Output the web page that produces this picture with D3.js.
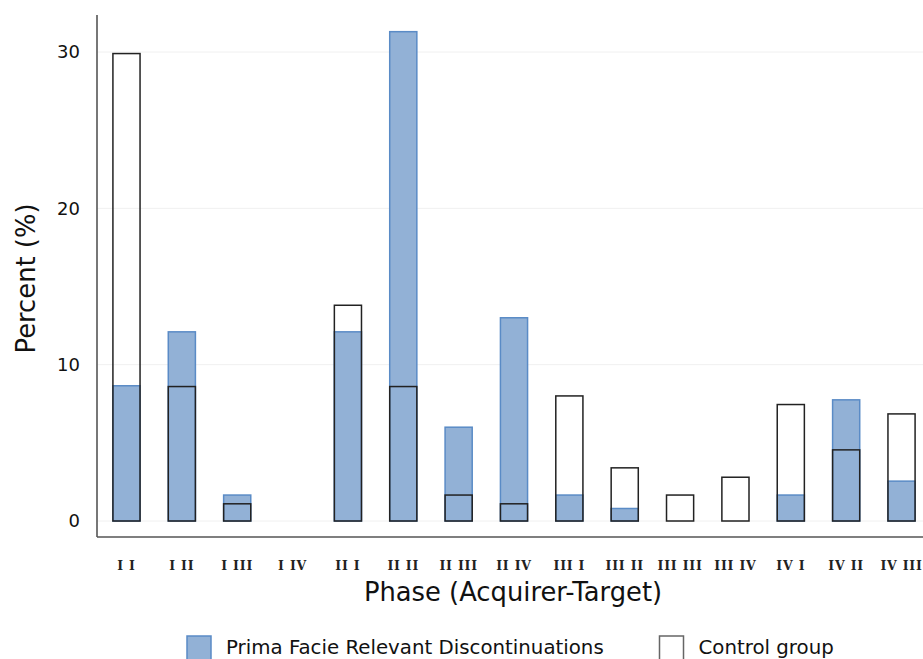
<!DOCTYPE html>
<html>
<head>
<meta charset="utf-8">
<script src="https://cdn.jsdelivr.net/npm/d3@7"></script>
<style>
  body { margin: 0; background: #fff; }
  svg { display: block; }
</style>
</head>
<body>
<div id="chart"></div>
<script>
const categories = ["I I", "I II", "I III", "I IV", "II I", "II II", "II III", "II IV",
                    "III I", "III II", "III III", "III IV", "IV I", "IV II", "IV III"];
const primaFacie = [8.65, 12.1, 1.66, 0, 12.1, 31.3, 6.0, 13.0, 1.66, 0.8, 0, 0, 1.66, 7.75, 2.55];
const controlGroup = [29.9, 8.6, 1.1, 0, 13.8, 8.6, 1.66, 1.1, 8.0, 3.4, 1.66, 2.8, 7.45, 4.55, 6.85];
const yTicks = [0, 10, 20, 30];

const width = 923, height = 659;
const axisX = 97, axisY = 537;

const svg = d3.select("#chart").append("svg")
  .attr("width", width)
  .attr("height", height);

const x = d3.scaleBand()
  .domain(categories)
  .range([98.8, 929.2])
  .paddingInner(0.51)
  .paddingOuter(0.255);

const y = d3.scaleLinear()
  .domain([0, 30])
  .range([521, 52]);

// faint gridlines
svg.append("g")
  .selectAll("line")
  .data(yTicks)
  .enter()
  .append("line")
  .attr("x1", axisX)
  .attr("x2", width)
  .attr("y1", d => y(d))
  .attr("y2", d => y(d))
  .style("stroke", "#f0f0f0")
  .style("stroke-width", 1);

// blue bars
svg.append("g")
  .selectAll("rect")
  .data(categories.map((c, i) => ({ cat: c, v: primaFacie[i] })).filter(d => d.v > 0))
  .enter()
  .append("rect")
  .attr("x", d => x(d.cat))
  .attr("y", d => y(d.v))
  .attr("width", x.bandwidth())
  .attr("height", d => y(0) - y(d.v))
  .style("fill", "#92b1d6")
  .style("stroke", "#5a8bc6")
  .style("stroke-width", 1.5);

// control outline bars
svg.append("g")
  .selectAll("rect")
  .data(categories.map((c, i) => ({ cat: c, v: controlGroup[i] })).filter(d => d.v > 0))
  .enter()
  .append("rect")
  .attr("x", d => x(d.cat))
  .attr("y", d => y(d.v))
  .attr("width", x.bandwidth())
  .attr("height", d => y(0) - y(d.v))
  .style("fill", "none")
  .style("stroke", "#222")
  .style("stroke-width", 1.5);

// axis lines
svg.append("line")
  .attr("x1", axisX).attr("x2", axisX)
  .attr("y1", 15).attr("y2", axisY)
  .style("stroke", "#555").style("stroke-width", 1.6);
svg.append("line")
  .attr("x1", axisX).attr("x2", width)
  .attr("y1", axisY).attr("y2", axisY)
  .style("stroke", "#555").style("stroke-width", 1.6);

// y ticks
const yAxis = svg.append("g")
  .attr("transform", `translate(${axisX},0)`)
  .call(d3.axisLeft(y).tickValues(yTicks).tickSize(0).tickPadding(17).tickFormat(d3.format("d")));
yAxis.select(".domain").remove();
yAxis.selectAll("text")
  .style("font-family", "'DejaVu Sans', Verdana, sans-serif")
  .style("font-size", "18px")
  .style("fill", "#111");

// x ticks
const xAxis = svg.append("g")
  .attr("transform", `translate(0,${axisY})`)
  .call(d3.axisBottom(x).tickSize(0).tickPadding(24));
xAxis.select(".domain").remove();
xAxis.selectAll("text")
  .style("font-family", "'DejaVu Serif', serif")
  .style("font-size", "12.5px")
  .style("font-weight", "bold")
  .style("letter-spacing", "0.8px")
  .style("fill", "#222");

// axis titles
svg.append("text")
  .attr("transform", "translate(35,278.5) rotate(-90)")
  .style("text-anchor", "middle")
  .style("font-family", "'DejaVu Sans', Verdana, sans-serif")
  .style("font-size", "25.8px")
  .style("fill", "#111")
  .text("Percent (%)");

svg.append("text")
  .attr("x", 513)
  .attr("y", 601)
  .style("text-anchor", "middle")
  .style("font-family", "'DejaVu Sans', Verdana, sans-serif")
  .style("font-size", "25.8px")
  .style("fill", "#111")
  .text("Phase (Acquirer-Target)");

// legend
const legendItems = [
  { label: "Prima Facie Relevant Discontinuations", x: 187, fill: "#92b1d6", stroke: "#5a8bc6" },
  { label: "Control group", x: 659.5, fill: "#fff", stroke: "#666" }
];
const legend = svg.append("g");
legendItems.forEach(item => {
  legend.append("rect")
    .attr("x", item.x)
    .attr("y", 636)
    .attr("width", 24)
    .attr("height", 30)
    .style("fill", item.fill)
    .style("stroke", item.stroke)
    .style("stroke-width", 1.5);
  legend.append("text")
    .attr("x", item.x + 39)
    .attr("y", 654)
    .style("font-family", "'DejaVu Sans', Verdana, sans-serif")
    .style("font-size", "19.8px")
    .style("fill", "#111")
    .text(item.label);
});
</script>
</body>
</html>
